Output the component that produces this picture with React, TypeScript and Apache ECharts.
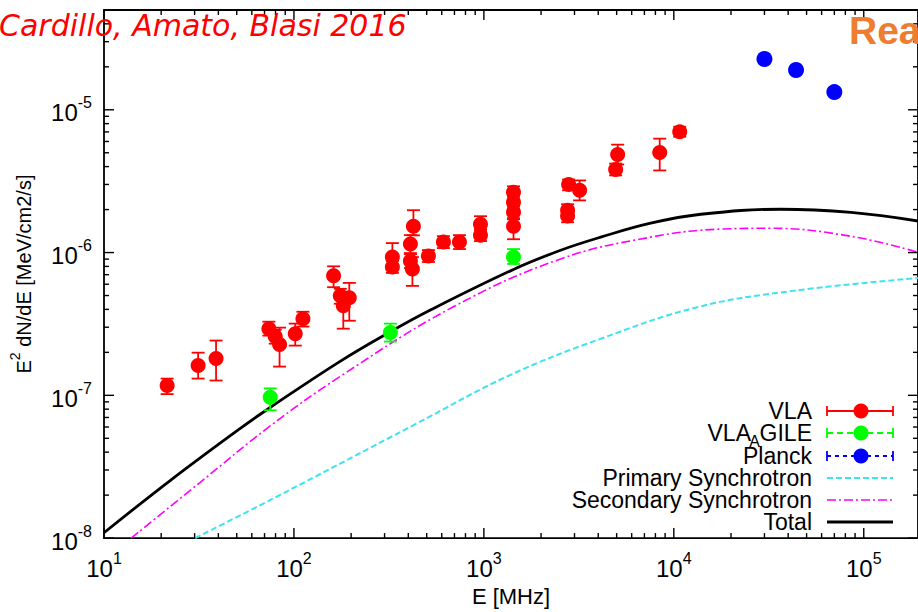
import React, { useEffect, useRef } from 'react';
import * as echarts from 'echarts';

// ---- VLA data (MHz, MeV/cm2/s) ----
const vlaE = [21.5, 31.3, 38.9, 73.8, 79.7, 84.0, 101.6, 111.5, 161.7, 175.4, 181.9, 195.6, 329.8, 329.8, 425.6, 410.4, 410.4, 420.4, 510.5, 612.4, 743.6, 959.6, 959.6, 1432, 1432, 1432, 1432, 2793, 3192, 2759, 2759, 5062, 4940, 8428, 10740];
const vlaF = [1.17e-7, 1.62e-7, 1.81e-7, 2.93e-7, 2.58e-7, 2.27e-7, 2.70e-7, 3.44e-7, 6.89e-7, 4.98e-7, 4.24e-7, 4.82e-7, 9.30e-7, 7.92e-7, 1.53e-6, 1.146e-6, 8.73e-7, 7.67e-7, 9.45e-7, 1.184e-6, 1.184e-6, 1.58e-6, 1.324e-6, 2.64e-6, 2.25e-6, 1.915e-6, 1.53e-6, 3.0e-6, 2.73e-6, 1.98e-6, 1.80e-6, 4.86e-6, 3.82e-6, 5.02e-6, 7.03e-6];
const vlaLo = [1.02e-7, 1.31e-7, 1.27e-7, 2.62e-7, 2.30e-7, 1.59e-7, 2.23e-7, 3.03e-7, 5.72e-7, 4.38e-7, 2.93e-7, 3.33e-7, 7.67e-7, 7.20e-7, 1.32e-6, 9.92e-7, 7.80e-7, 5.84e-7, 8.59e-7, 1.075e-6, 1.058e-6, 1.412e-6, 1.203e-6, 2.40e-6, 2.04e-6, 1.74e-6, 1.24e-6, 2.73e-6, 2.32e-6, 1.80e-6, 1.63e-6, 4.14e-6, 3.47e-6, 3.76e-6, 6.48e-6];
const vlaHi = [1.31e-7, 1.99e-7, 2.42e-7, 3.28e-7, 2.88e-7, 2.98e-7, 3.18e-7, 3.85e-7, 8.01e-7, 5.57e-7, 5.06e-7, 6.13e-7, 1.165e-6, 8.73e-7, 1.98e-6, 1.324e-6, 9.76e-7, 9.30e-7, 1.041e-6, 1.303e-6, 1.324e-6, 1.797e-6, 1.458e-6, 2.91e-6, 2.48e-6, 2.11e-6, 1.71e-6, 3.25e-6, 3.20e-6, 2.18e-6, 1.98e-6, 5.70e-6, 4.20e-6, 6.28e-6, 7.61e-6];

// ---- VLA_AGILE ----
const agileE = [75.0, 321.8, 1432];
const agileF = [9.68e-8, 2.75e-7, 9.30e-7];
const agileLo = [7.86e-8, 2.38e-7, 8.32e-7];
const agileHi = [1.119e-7, 3.18e-7, 1.058e-6];

// ---- Planck ----
const planckE = [30000, 44000, 70000];
const planckF = [2.27e-5, 1.90e-5, 1.33e-5];

// ---- Model curves ----
const totalE = [10, 22.3, 52, 75, 175, 322, 523, 1432, 2535, 4120, 7551, 13870, 36600, 85600, 195400];
const totalF = [1.09e-8, 2.53e-8, 5.85e-8, 8.22e-8, 1.73e-7, 2.79e-7, 3.96e-7, 7.62e-7, 1.038e-6, 1.282e-6, 1.606e-6, 1.855e-6, 2.01e-6, 1.91e-6, 1.66e-6];
const secE = [13.9, 32, 75, 175, 691, 2535, 7551, 17660, 32400, 85600, 195400];
const secF = [1.0e-8, 2.45e-8, 6.1e-8, 1.355e-7, 4.17e-7, 9.02e-7, 1.282e-6, 1.46e-6, 1.48e-6, 1.30e-6, 1.0e-6];
const primE = [30.2, 78.7, 436, 1364, 4120, 13530, 42350, 195400];
const primF = [1.0e-8, 1.91e-8, 6.28e-8, 1.38e-7, 2.49e-7, 4.17e-7, 5.39e-7, 6.64e-7];

// ---- axes ----
const xMin = 10;
const xMax = 193000;
const yMin = 1e-8;
const yMax = 5e-5;
const xDecades = [10, 100, 1000, 10000, 100000];
const yDecades = [1e-8, 1e-7, 1e-6, 1e-5];
const minorMult = [2, 3, 4, 5, 6, 7, 8, 9];

const legendNames = ['VLA', 'VLA_AGILE', 'Planck', 'Primary Synchrotron', 'Secondary Synchrotron', 'Total'];

const FONT = '"Liberation Sans", Arial, Helvetica, sans-serif';

function powLabel(v: number): string {
  const l = Math.log10(v);
  const e = Math.round(l);
  if (Math.abs(l - e) > 1e-6) return '';
  return `{b|10}{s|${e}}`;
}

export default function App() {
  const ref = useRef<HTMLDivElement>(null);

  useEffect(() => {
    if (!ref.current) return;
    const chart = echarts.init(ref.current, undefined, { renderer: 'svg' });

    const xTicks: number[][] = [];
    xDecades.forEach((d) => {
      xTicks.push([d, 1e-6, 10]);
      minorMult.forEach((m) => {
        if (d * m < xMax) xTicks.push([d * m, 1e-6, 5]);
      });
    });
    const yTicks: number[][] = [];
    yDecades.forEach((d) => {
      yTicks.push([100, d, 10]);
      minorMult.forEach((m) => {
        if (d * m < yMax) yTicks.push([100, d * m, 5]);
      });
    });

    const errRender = (color: string) => (params: any, api: any) => {
      const x = api.value(0);
      const p1 = api.coord([x, api.value(1)]);
      const p2 = api.coord([x, api.value(2)]);
      const w = 6.5;
      const st = { stroke: color, lineWidth: 1.8 };
      return {
        type: 'group',
        children: [
          { type: 'line', shape: { x1: p1[0], y1: p1[1], x2: p2[0], y2: p2[1] }, style: st },
          { type: 'line', shape: { x1: p1[0] - w, y1: p1[1], x2: p1[0] + w, y2: p1[1] }, style: st },
          { type: 'line', shape: { x1: p2[0] - w, y1: p2[1], x2: p2[0] + w, y2: p2[1] }, style: st },
        ],
      };
    };

    const rowsY = [411, 433, 456, 478, 500, 522];
    const lx1 = 827;
    const lx2 = 893;
    const lc = 861;
    const LF = 23;
    const legendText = (i: number): any => ({
      type: 'text',
      x: 812,
      y: rowsY[i],
      z: 100,
      style: {
        text: legendNames[i],
        font: `${LF}px ${FONT}`,
        fill: '#000',
        align: 'right',
        verticalAlign: 'middle',
      },
    });
    const capLine = (x: number, y: number, color: string): any => ({
      type: 'line',
      z: 100,
      shape: { x1: x, y1: y - 5, x2: x, y2: y + 5 },
      style: { stroke: color, lineWidth: 1.8 },
    });

    const graphics: any[] = [
      {
        type: 'text',
        x: -1,
        y: 25,
        z: 100,
        style: {
          text: 'Cardillo, Amato, Blasi 2016',
          font: 'italic 30px "DejaVu Sans", sans-serif',
          fill: '#FF0000',
          align: 'left',
          verticalAlign: 'middle',
        },
      },
      {
        type: 'text',
        x: 849,
        y: 30,
        z: 100,
        style: {
          text: 'Rea',
          font: `bold 39px ${FONT}`,
          fill: '#ED7D31',
          align: 'left',
          verticalAlign: 'middle',
        },
      },
      legendText(0),
      {
        type: 'text',
        x: 812,
        y: rowsY[1],
        z: 100,
        style: { text: 'GILE', font: `${LF}px ${FONT}`, fill: '#000', align: 'right', verticalAlign: 'middle' },
      },
      {
        type: 'text',
        x: 760,
        y: rowsY[1] + 8,
        z: 100,
        style: { text: 'A', font: `16px ${FONT}`, fill: '#000', align: 'right', verticalAlign: 'middle' },
      },
      {
        type: 'text',
        x: 751,
        y: rowsY[1],
        z: 100,
        style: { text: 'VLA', font: `${LF}px ${FONT}`, fill: '#000', align: 'right', verticalAlign: 'middle' },
      },
      legendText(2),
      legendText(3),
      legendText(4),
      legendText(5),
      // VLA sample
      { type: 'line', z: 100, shape: { x1: lx1, y1: rowsY[0], x2: lx2, y2: rowsY[0] }, style: { stroke: '#FF0000', lineWidth: 1.8 } },
      capLine(lx1, rowsY[0], '#FF0000'),
      capLine(lx2, rowsY[0], '#FF0000'),
      { type: 'circle', z: 101, shape: { cx: lc, cy: rowsY[0], r: 7.5 }, style: { fill: '#FF0000' } },
      // AGILE sample
      { type: 'line', z: 100, shape: { x1: lx1, y1: rowsY[1], x2: lx2, y2: rowsY[1] }, style: { stroke: '#00FF00', lineWidth: 1.8, lineDash: [6, 4] } },
      capLine(lx1, rowsY[1], '#00FF00'),
      capLine(lx2, rowsY[1], '#00FF00'),
      { type: 'circle', z: 101, shape: { cx: lc, cy: rowsY[1], r: 7.5 }, style: { fill: '#00FF00' } },
      // Planck sample
      { type: 'line', z: 100, shape: { x1: lx1, y1: rowsY[2], x2: lx2, y2: rowsY[2] }, style: { stroke: '#0000FF', lineWidth: 1.8, lineDash: [4, 4] } },
      capLine(lx1, rowsY[2], '#0000FF'),
      capLine(lx2, rowsY[2], '#0000FF'),
      { type: 'circle', z: 101, shape: { cx: lc, cy: rowsY[2], r: 7.5 }, style: { fill: '#0000FF' } },
      // Primary
      { type: 'line', z: 100, shape: { x1: lx1, y1: rowsY[3], x2: lx2, y2: rowsY[3] }, style: { stroke: '#3DE3F0', lineWidth: 2, lineDash: [6, 3] } },
      // Secondary
      { type: 'line', z: 100, shape: { x1: lx1, y1: rowsY[4], x2: lx2, y2: rowsY[4] }, style: { stroke: '#FF00FF', lineWidth: 1.6, lineDash: [9, 3, 2, 3] } },
      // Total
      { type: 'line', z: 100, shape: { x1: lx1, y1: rowsY[5], x2: lx2, y2: rowsY[5] }, style: { stroke: '#000', lineWidth: 2.8 } },
    ];

    const labelRich = {
      b: { fontSize: 24, fontFamily: FONT, color: '#000', lineHeight: 30, verticalAlign: 'bottom' },
      s: { fontSize: 16, fontFamily: FONT, color: '#000', lineHeight: 12, verticalAlign: 'top' },
    };

    const curveSmooth = 0.4;

    const option: any = {
      animation: false,
      backgroundColor: '#fff',
      grid: {
        left: 104,
        right: 0,
        top: 10,
        bottom: 71,
        show: true,
        borderColor: '#000',
        borderWidth: 1.8,
        backgroundColor: 'transparent',
        containLabel: false,
      },
      xAxis: {
        type: 'log',
        logBase: 10,
        min: xMin,
        max: xMax,
        axisLine: { show: false },
        axisTick: { show: false },
        splitLine: { show: false },
        minorTick: { show: false },
        axisLabel: {
          formatter: powLabel,
          margin: 12,
          rich: labelRich,
          showMaxLabel: false,
        },
        name: 'E [MHz]',
        nameLocation: 'middle',
        nameGap: 45,
        nameTextStyle: { fontSize: 22, fontFamily: FONT, color: '#000' },
      },
      yAxis: {
        type: 'log',
        logBase: 10,
        min: yMin,
        max: yMax,
        axisLine: { show: false },
        axisTick: { show: false },
        splitLine: { show: false },
        minorTick: { show: false },
        axisLabel: {
          formatter: powLabel,
          margin: 12,
          rich: labelRich,
          showMaxLabel: false,
        },
        name: '{n|E}{s|2}{n| dN/dE [MeV/cm2/s]}',
        nameLocation: 'middle',
        nameRotate: 90,
        nameGap: 70,
        nameTextStyle: {
          rich: {
            n: { fontSize: 20, fontFamily: FONT, color: '#000', lineHeight: 26, verticalAlign: 'bottom' },
            s: { fontSize: 14, fontFamily: FONT, color: '#000', lineHeight: 12, verticalAlign: 'top' },
          },
        },
      },
      graphic: graphics,
      series: [
        {
          name: 'Primary Synchrotron',
          type: 'line',
          data: primE.map((e, i) => [e, primF[i]]),
          showSymbol: false,
          smooth: curveSmooth,
          lineStyle: { color: '#3DE3F0', width: 2, type: [6, 3] },
          z: 2,
        },
        {
          name: 'Secondary Synchrotron',
          type: 'line',
          data: secE.map((e, i) => [e, secF[i]]),
          showSymbol: false,
          smooth: curveSmooth,
          lineStyle: { color: '#FF00FF', width: 1.6, type: [9, 3, 2, 3] },
          z: 2,
        },
        {
          name: 'Total',
          type: 'line',
          data: totalE.map((e, i) => [e, totalF[i]]),
          showSymbol: false,
          smooth: curveSmooth,
          lineStyle: { color: '#000', width: 2.8 },
          z: 3,
        },
        {
          type: 'custom',
          name: 'VLA err',
          coordinateSystem: 'cartesian2d',
          encode: { x: 0, y: [1, 2] },
          data: vlaE.map((e, i) => [e, vlaLo[i], vlaHi[i]]),
          renderItem: errRender('#FF0000'),
          z: 4,
          silent: true,
        },
        {
          type: 'custom',
          name: 'AGILE err',
          coordinateSystem: 'cartesian2d',
          encode: { x: 0, y: [1, 2] },
          data: agileE.map((e, i) => [e, agileLo[i], agileHi[i]]),
          renderItem: errRender('#00FF00'),
          z: 4,
          silent: true,
        },
        {
          name: 'VLA',
          type: 'scatter',
          data: vlaE.map((e, i) => [e, vlaF[i]]),
          symbolSize: 15,
          itemStyle: { color: '#FF0000', opacity: 1 },
          z: 5,
        },
        {
          name: 'VLA_AGILE',
          type: 'scatter',
          data: agileE.map((e, i) => [e, agileF[i]]),
          symbolSize: 15,
          itemStyle: { color: '#00FF00', opacity: 1 },
          z: 5,
        },
        {
          name: 'Planck',
          type: 'scatter',
          data: planckE.map((e, i) => [e, planckF[i]]),
          symbolSize: 16,
          itemStyle: { color: '#0000FF', opacity: 1 },
          z: 5,
        },
        {
          type: 'custom',
          name: 'xticks',
          coordinateSystem: 'cartesian2d',
          encode: { x: 0, y: 1 },
          data: xTicks,
          silent: true,
          z: 10,
          renderItem: (params: any, api: any) => {
            const cs = params.coordSys;
            const x = api.coord([api.value(0), 1e-6])[0];
            const len = api.value(2);
            const b = cs.y + cs.height;
            const st = { stroke: '#000', lineWidth: 1.4 };
            return {
              type: 'group',
              children: [
                { type: 'line', shape: { x1: x, y1: b, x2: x, y2: b - len }, style: st },
                { type: 'line', shape: { x1: x, y1: cs.y, x2: x, y2: cs.y + len }, style: st },
              ],
            };
          },
        },
        {
          type: 'custom',
          name: 'yticks',
          coordinateSystem: 'cartesian2d',
          encode: { x: 0, y: 1 },
          data: yTicks,
          silent: true,
          z: 10,
          renderItem: (params: any, api: any) => {
            const cs = params.coordSys;
            const y = api.coord([100, api.value(1)])[1];
            const len = api.value(2);
            const r = cs.x + cs.width;
            const st = { stroke: '#000', lineWidth: 1.4 };
            return {
              type: 'group',
              children: [
                { type: 'line', shape: { x1: cs.x, y1: y, x2: cs.x + len, y2: y }, style: st },
                { type: 'line', shape: { x1: r, y1: y, x2: r - len, y2: y }, style: st },
              ],
            };
          },
        },
      ],
    };

    chart.setOption(option);
    return () => {
      chart.dispose();
    };
  }, []);

  return (
    <div
      ref={ref}
      style={{ position: 'fixed', left: 0, top: 0, width: 918, height: 612, background: '#fff' }}
    />
  );
}
